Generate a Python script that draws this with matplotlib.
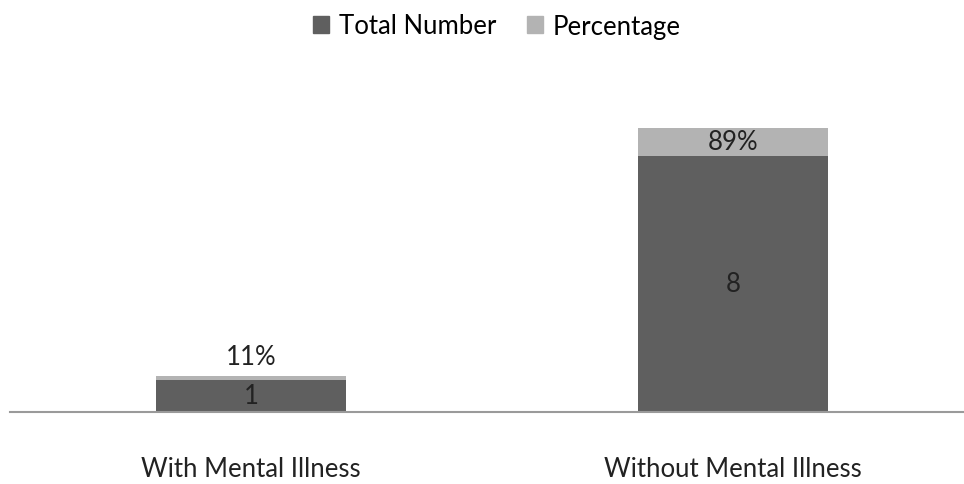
import matplotlib
matplotlib.use("Agg")
import matplotlib.pyplot as plt
from matplotlib.patches import Patch

categories = ["With Mental Illness", "Without Mental Illness"]
total_number = [1, 8]
percentage = [0.11, 0.89]
pct_labels = ["11%", "89%"]
series_names = ["Total Number", "Percentage"]

dark = "#5f5f5f"
light = "#b3b3b3"

plt.rcParams['font.family'] = ['Lato', 'DejaVu Sans']
fs = 18.5

fig = plt.figure(figsize=(9.64, 4.85), dpi=100)
ax = fig.add_axes([10/964, (485-412.5)/485, 964/964, 319.4/485])

x = list(range(len(categories)))
w = 0.396
ax.bar(x, total_number, width=w, color=dark, zorder=2)
ax.bar(x, percentage, width=w, bottom=total_number, color=light, zorder=2)

for i in x:
    ax.text(i, total_number[i] / 2, str(total_number[i]), ha="center", va="center",
            fontsize=fs, color="#222222")
    seg = percentage[i]
    if seg < 0.5:
        ax.annotate(pct_labels[i], (i, total_number[i] + seg), xytext=(0, 5),
                    textcoords="offset points", ha="center", va="bottom",
                    fontsize=fs, color="#222222")
    else:
        ax.text(i, total_number[i] + seg / 2, pct_labels[i], ha="center", va="center",
                fontsize=fs, color="#222222")

ax.set_xlim(-0.5, 1.5)
ax.set_ylim(0, 10)
ax.set_xticks(x)
ax.set_xticklabels(categories, fontsize=fs, color="#222222")
ax.tick_params(axis="x", length=0, pad=32)
ax.set_yticks([])
for s in ["top", "right", "left"]:
    ax.spines[s].set_visible(False)
ax.spines["bottom"].set_color("#9a9a9a")
ax.spines["bottom"].set_linewidth(1.5)

handles = [Patch(color=dark), Patch(color=light)]
fig.legend(handles, series_names, loc="center", bbox_to_anchor=(497/964, 1 - 27/485),
           ncol=2, frameon=False, fontsize=fs, handlelength=0.6, handleheight=0.6,
           handletextpad=0.4, columnspacing=1.2)

fig.savefig("out.png", dpi=100)
